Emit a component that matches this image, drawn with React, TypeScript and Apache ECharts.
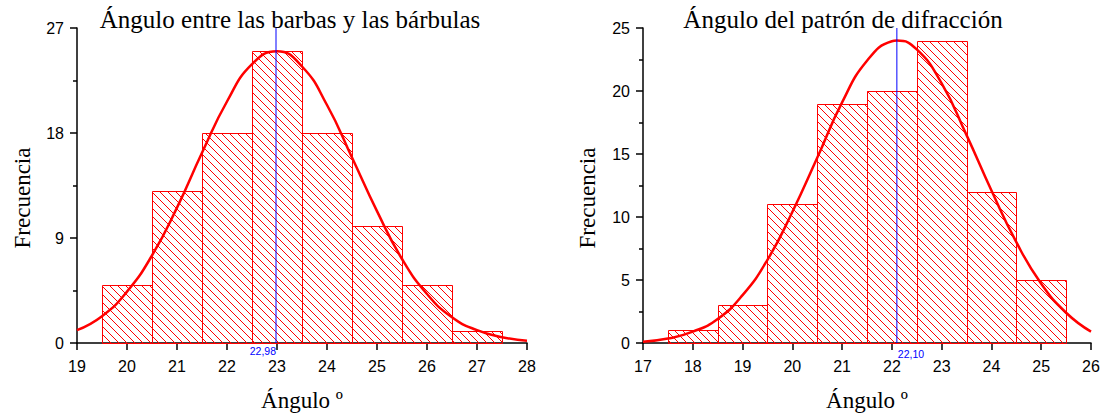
import React, { useEffect, useRef } from "react";
import * as echarts from "echarts";

// ---------- Data ----------
const leftTitle = "Ángulo entre las barbas y las bárbulas";
const rightTitle = "Ángulo del patrón de difracción";
const xName = "Ángulo º";
const yName = "Frecuencia";

// Left histogram (bins of width 1)
const leftBinStarts = [19.5, 20.5, 21.5, 22.5, 23.5, 24.5, 25.5, 26.5];
const leftCounts = [5, 13, 18, 25, 18, 10, 5, 1];
const leftCurveX = [19, 19.5, 20, 20.5, 21, 21.5, 22, 22.5, 23, 23.5, 24, 24.5, 25, 25.5, 26, 26.5, 27, 27.5, 28];
const leftCurveY = [1.1, 2.3, 4.4, 7.5, 11.6, 16.3, 20.7, 23.9, 25.0, 23.7, 20.4, 15.9, 11.3, 7.2, 4.2, 2.2, 1.1, 0.5, 0.2];
const leftMean = 22.98;
const leftMeanLabel = "22,98";
const leftXTicks = [19, 28];
const leftYTicks = [0, 27, 9];

// Right histogram
const rightBinStarts = [17.5, 18.5, 19.5, 20.5, 21.5, 22.5, 23.5, 24.5];
const rightCounts = [1, 3, 11, 19, 20, 24, 12, 5];
const rightCurveX = [17, 17.5, 18, 18.5, 19, 19.5, 20, 20.5, 21, 21.5, 22, 22.1, 22.5, 23, 23.5, 24, 24.5, 25, 25.5, 26];
const rightCurveY = [0.1, 0.35, 0.9, 1.9, 3.8, 6.6, 10.4, 14.7, 19.1, 22.4, 23.95, 24.0, 23.3, 20.6, 16.5, 12.1, 8.0, 4.7, 2.4, 0.9];
const rightMean = 22.1;
const rightMeanLabel = "22,10";
const rightXTicks = [17, 26];
const rightYTicks = [0, 25, 5];

const BIN_WIDTH = 1;

// ---------- Styles ----------
const RED = "#ff0000";
const BLUE = "#0000ff";
const HATCH = 8;
const SERIF = "'Liberation Serif', 'Times New Roman', serif";
const SANS = "'Liberation Sans', Arial, sans-serif";

function hatchedBarSeries(gridIndex: number, starts: number[], counts: number[]) {
  return {
    type: "custom",
    xAxisIndex: gridIndex,
    yAxisIndex: gridIndex,
    z: 1,
    encode: { x: [0, 1], y: 2 },
    data: starts.map((s, i) => [s, s + BIN_WIDTH, counts[i]]),
    renderItem: (params: any, api: any) => {
      const a = api.coord([api.value(0), api.value(2)]);
      const b = api.coord([api.value(1), 0]);
      const x0 = Math.round(a[0]) + 0.5;
      const x1 = Math.round(b[0]) + 0.5;
      const y0 = Math.round(a[1]) + 0.5;
      const y1 = Math.round(b[1]) + 0.5;
      const children: any[] = [];
      const cStart = Math.floor((x0 - y1) / HATCH) * HATCH;
      const cEnd = Math.ceil((x1 - y0) / HATCH) * HATCH;
      for (let c = cStart; c <= cEnd; c += HATCH) {
        const ya = Math.max(y0, x0 - c);
        const yb = Math.min(y1, x1 - c);
        if (yb > ya) {
          children.push({
            type: "line",
            shape: { x1: ya + c, y1: ya, x2: yb + c, y2: yb },
            style: { stroke: RED, lineWidth: 1 },
          });
        }
      }
      children.push({
        type: "rect",
        shape: { x: x0, y: y0, width: x1 - x0, height: y1 - y0 },
        style: { fill: "none", stroke: RED, lineWidth: 1 },
      });
      return { type: "group", children };
    },
  };
}

function curveSeries(gridIndex: number, xs: number[], ys: number[]) {
  return {
    type: "line",
    xAxisIndex: gridIndex,
    yAxisIndex: gridIndex,
    z: 3,
    smooth: true,
    showSymbol: false,
    symbol: "none",
    lineStyle: { color: RED, width: 2.5 },
    data: xs.map((x, i) => [x, ys[i]]),
  };
}

function meanLineSeries(gridIndex: number, mean: number, top: number) {
  return {
    type: "line",
    xAxisIndex: gridIndex,
    yAxisIndex: gridIndex,
    z: 5,
    showSymbol: false,
    symbol: "none",
    lineStyle: { color: BLUE, width: 1 },
    data: [
      [mean, top],
      [mean, 0],
    ],
  };
}

function meanLabelSeries(gridIndex: number, mean: number, label: string, side: "left" | "right") {
  return {
    type: "custom",
    xAxisIndex: gridIndex,
    yAxisIndex: gridIndex,
    z: 5,
    encode: { x: 0, y: 1 },
    data: [[mean, 0]],
    renderItem: (params: any, api: any) => {
      const q = api.coord([api.value(0), api.value(1)]);
      return {
        type: "text",
        style: {
          text: label,
          x: side === "left" ? q[0] : q[0] + 1,
          y: q[1] + (side === "left" ? 8 : 11),
          fill: BLUE,
          fontSize: 10.5,
          fontFamily: SANS,
          align: side === "left" ? "right" : "left",
          verticalAlign: "middle",
        },
      };
    },
  };
}

function xAxisCfg(gridIndex: number, ticks: number[]) {
  return {
    gridIndex,
    type: "value",
    min: ticks[0],
    max: ticks[1],
    interval: 1,
    axisLine: { show: true, onZero: false, lineStyle: { color: "#000", width: 1.5 } },
    axisTick: { show: true, length: 7, lineStyle: { color: "#000", width: 1.5 } },
    axisLabel: { color: "#000", fontSize: 16, fontFamily: SANS, margin: 15 },
    splitLine: { show: false },
  };
}

function yAxisCfg(gridIndex: number, ticks: number[]) {
  return {
    gridIndex,
    type: "value",
    min: ticks[0],
    max: ticks[1],
    interval: ticks[2],
    axisLine: { show: true, onZero: false, lineStyle: { color: "#000", width: 1.5 } },
    axisTick: { show: true, length: 7, lineStyle: { color: "#000", width: 1.5 } },
    minorTick: { show: true, splitNumber: 2, length: 4, lineStyle: { color: "#000", width: 1.5 } },
    axisLabel: { color: "#000", fontSize: 16, fontFamily: SANS, margin: 13 },
    splitLine: { show: false },
    minorSplitLine: { show: false },
  };
}

function textEl(text: string, x: number, y: number, size: number, rotation = 0) {
  return {
    type: "text",
    x,
    y,
    rotation,
    style: {
      text,
      fill: "#000",
      fontSize: size,
      fontFamily: SERIF,
      align: "center",
      verticalAlign: "middle",
    },
  };
}

export default function App() {
  const ref = useRef<HTMLDivElement>(null);
  useEffect(() => {
    document.body.style.margin = "0";
    if (!ref.current) return;
    const chart = echarts.init(ref.current, undefined, { renderer: "svg" });
    chart.setOption({
      animation: false,
      backgroundColor: "#fff",
      grid: [
        { left: 77, top: 28, width: 450, height: 315 },
        { left: 643, top: 28, width: 448, height: 315 },
      ],
      xAxis: [xAxisCfg(0, leftXTicks), xAxisCfg(1, rightXTicks)],
      yAxis: [yAxisCfg(0, leftYTicks), yAxisCfg(1, rightYTicks)],
      series: [
        hatchedBarSeries(0, leftBinStarts, leftCounts),
        curveSeries(0, leftCurveX, leftCurveY),
        meanLineSeries(0, leftMean, leftYTicks[1]),
        meanLabelSeries(0, leftMean, leftMeanLabel, "left"),
        hatchedBarSeries(1, rightBinStarts, rightCounts),
        curveSeries(1, rightCurveX, rightCurveY),
        meanLineSeries(1, rightMean, rightYTicks[1]),
        meanLabelSeries(1, rightMean, rightMeanLabel, "right"),
      ],
      graphic: [
        textEl(leftTitle, 290, 19, 25),
        textEl(rightTitle, 843, 19, 25),
        textEl(xName, 302, 400, 23),
        textEl(xName, 867, 400, 23),
        textEl(yName, 22, 198, 23, Math.PI / 2),
        textEl(yName, 587, 198, 23, Math.PI / 2),
      ],
    });
    return () => chart.dispose();
  }, []);
  return <div ref={ref} style={{ width: 1106, height: 416 }} />;
}
